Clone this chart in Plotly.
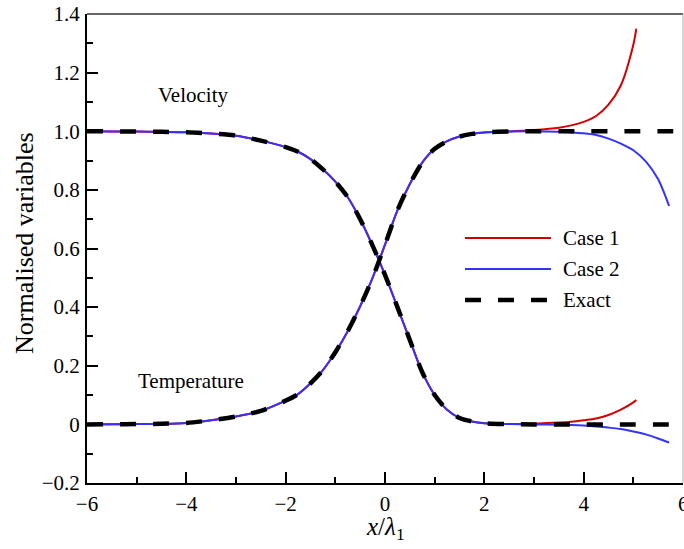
import plotly.graph_objects as go

# Shared abscissa for the region where all solutions coincide
x_common = [-6, -5.5, -5, -4.5, -4, -3.5, -3, -2.5, -2, -1.75, -1.5, -1.25, -1,
            -0.75, -0.5, -0.25, 0, 0.25, 0.5, 0.75, 1, 1.25, 1.5, 1.75, 2, 2.5, 3]

# Exact profiles
x_exact = x_common + [3.5, 4, 4.5, 5, 5.5, 6]
vel_exact = [1.0, 0.9995, 0.999, 0.998, 0.9965, 0.992, 0.985, 0.968, 0.946, 0.93,
             0.905, 0.87, 0.828, 0.775, 0.70, 0.61, 0.51, 0.40, 0.288, 0.178, 0.10,
             0.05, 0.022, 0.010, 0.004, 0.001, 0.0, 0.0, 0.0, 0.0, 0.0, 0.0, 0.0]
temp_exact = [0.0, 0.0005, 0.001, 0.002, 0.005, 0.014, 0.027, 0.046, 0.081, 0.103,
              0.14, 0.185, 0.246, 0.318, 0.403, 0.50, 0.613, 0.73, 0.82, 0.893, 0.94,
              0.966, 0.982, 0.991, 0.996, 0.999, 1.0, 1.0, 1.0, 1.0, 1.0, 1.0, 1.0]

# Case 1
x_case1 = x_common + [3.5, 3.75, 4, 4.25, 4.5, 4.75, 5, 5.06]
vel_case1 = [1.0, 0.9995, 0.999, 0.998, 0.9965, 0.992, 0.985, 0.968, 0.946, 0.93,
             0.905, 0.87, 0.828, 0.775, 0.70, 0.61, 0.51, 0.40, 0.288, 0.178, 0.10,
             0.05, 0.022, 0.010, 0.004, 0.001, 0.0025,
             0.006, 0.009, 0.014, 0.020, 0.032, 0.050, 0.075, 0.083]
temp_case1 = [0.0, 0.0005, 0.001, 0.002, 0.005, 0.014, 0.027, 0.046, 0.081, 0.103,
              0.14, 0.185, 0.246, 0.318, 0.403, 0.50, 0.613, 0.73, 0.82, 0.893, 0.94,
              0.966, 0.982, 0.991, 0.996, 0.999, 1.004,
              1.012, 1.020, 1.032, 1.052, 1.091, 1.157, 1.295, 1.35]

# Case 2
x_case2 = x_common + [3.5, 3.75, 4, 4.25, 4.5, 4.75, 5, 5.25, 5.5, 5.72]
vel_case2 = [1.0, 0.9995, 0.999, 0.998, 0.9965, 0.992, 0.985, 0.968, 0.946, 0.93,
             0.905, 0.87, 0.828, 0.775, 0.70, 0.61, 0.51, 0.40, 0.288, 0.178, 0.10,
             0.05, 0.022, 0.010, 0.004, 0.001, 0.0,
             -0.001, -0.002, -0.004, -0.007, -0.011, -0.016, -0.024, -0.034, -0.048, -0.062]
temp_case2 = [0.0, 0.0005, 0.001, 0.002, 0.005, 0.014, 0.027, 0.046, 0.081, 0.103,
              0.14, 0.185, 0.246, 0.318, 0.403, 0.50, 0.613, 0.73, 0.82, 0.893, 0.94,
              0.966, 0.982, 0.991, 0.996, 0.999, 1.0,
              0.998, 0.996, 0.993, 0.987, 0.975, 0.958, 0.935, 0.897, 0.836, 0.745]

x_tickvals = [-6, -4, -2, 0, 2, 4]
x_ticktext = ["\u22126", "\u22124", "\u22122", "0", "2", "4"]
x_edge_label = "6"
y_tickvals = [-0.2, 0, 0.2, 0.4, 0.6, 0.8, 1.0, 1.2, 1.4]
y_ticktext = ["\u22120.2", "0", "0.2", "0.4", "0.6", "0.8", "1.0", "1.2", "1.4"]

RED = "#d40000"
BLUE = "#3333ff"
SERIF = "'Liberation Serif', 'Times New Roman', Tinos, 'DejaVu Serif', serif"
DASH = "16px,17px"

fig = go.Figure()

def add_curve(x, y, color, width, dash=None):
    fig.add_trace(go.Scatter(
        x=x, y=y, mode="lines", showlegend=False, hoverinfo="skip",
        line=dict(color=color, width=width, dash=dash, shape="spline", smoothing=0.8),
    ))

for ys in (vel_case1, temp_case1):
    add_curve(x_case1, ys, RED, 2)
for ys in (vel_case2, temp_case2):
    add_curve(x_case2, ys, BLUE, 2)
for ys in (vel_exact, temp_exact):
    add_curve(x_exact, ys, "black", 4.5, DASH)

# Plot-area geometry in pixels
W, H = 684, 549
L, R, T, B = 87, 1, 14, 66
pw, ph = W - L - R, H - T - B

def px(xp):
    return (xp - L) / pw

def py(yp):
    return (H - B - yp) / ph

shapes = [
    # top and right frame lines
    dict(type="line", xref="paper", yref="paper", x0=0, x1=1, y0=1, y1=1,
         line=dict(color="#333333", width=1.5)),
    dict(type="line", xref="paper", yref="paper", x0=1, x1=1, y0=0, y1=1,
         line=dict(color="#aaaaaa", width=1)),
]

# Legend drawn as line samples with labels
legend_items = [("Case 1", RED, 2, None, 238),
                ("Case 2", BLUE, 2, None, 269),
                ("Exact", "black", 4.5, DASH, 300)]
annotations = []
for label, color, width, dash, yp in legend_items:
    shapes.append(dict(type="line", xref="paper", yref="paper",
                       x0=px(465), x1=px(551), y0=py(yp), y1=py(yp),
                       line=dict(color=color, width=width, dash=dash)))
    annotations.append(dict(xref="paper", yref="paper", x=px(561), y=py(yp),
                            text=label, showarrow=False, xanchor="left", yanchor="middle",
                            font=dict(family=SERIF, size=21, color="black")))

annotations += [
    dict(xref="paper", yref="paper", x=px(193), y=py(95), text="Velocity",
         showarrow=False, xanchor="center", yanchor="middle",
         font=dict(family=SERIF, size=21, color="black")),
    dict(xref="paper", yref="paper", x=px(191), y=py(381), text="Temperature",
         showarrow=False, xanchor="center", yanchor="middle",
         font=dict(family=SERIF, size=21, color="black")),
    dict(xref="paper", yref="paper", x=px(24), y=py(243), text="Normalised variables",
         showarrow=False, textangle=-90, xanchor="center", yanchor="middle",
         font=dict(family=SERIF, size=26, color="black")),
    dict(xref="paper", yref="paper", x=0.5, y=py(546),
         text="<i>x</i>/<i>\u03bb</i><sub>1</sub>",
         showarrow=False, xanchor="center", yanchor="bottom",
         font=dict(family=SERIF, size=25, color="black")),
    # tick label at the right end of the x axis
    dict(xref="x", yref="paper", x=6, y=py(504), text=x_edge_label,
         showarrow=False, xanchor="center", yanchor="middle",
         font=dict(family=SERIF, size=21, color="black")),
]

axis_common = dict(
    showgrid=False, zeroline=False, showline=True, linecolor="black", linewidth=2,
    ticks="inside", ticklen=11, tickwidth=2, tickcolor="black",
    tickfont=dict(family=SERIF, size=21, color="black"),
    ticklabelstandoff=1,
)

fig.update_layout(
    width=W, height=H,
    margin=dict(l=L, r=R, t=T, b=B, pad=0),
    paper_bgcolor="white", plot_bgcolor="white",
    xaxis=dict(range=[-6, 6], tickvals=x_tickvals, ticktext=x_ticktext,
               minor=dict(dtick=1, ticks="inside", ticklen=6, tickwidth=1.5, tickcolor="black"),
               **axis_common),
    yaxis=dict(range=[-0.2, 1.4], tickvals=y_tickvals, ticktext=y_ticktext,
               minor=dict(dtick=0.1, ticks="inside", ticklen=6, tickwidth=1.5, tickcolor="black"),
               **axis_common),
    shapes=shapes,
    annotations=annotations,
)

fig.write_html("out.html")
